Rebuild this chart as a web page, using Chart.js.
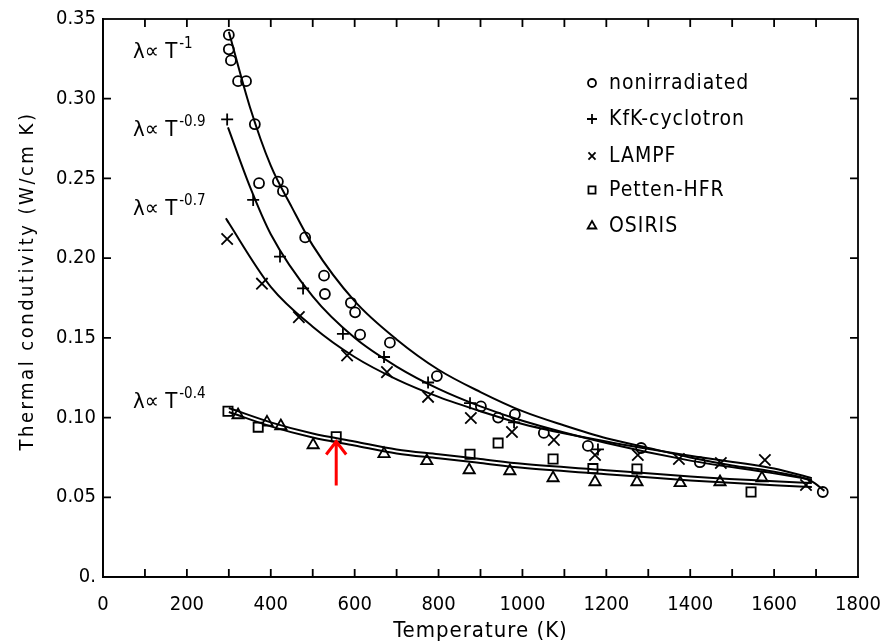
<!DOCTYPE html>
<html lang="en">
<head>
    <meta charset="UTF-8">
    <title>Thermal conductivity</title>
    <script src="https://cdn.jsdelivr.net/npm/chart.js"></script>
    <style>
        body { margin: 0; background: #fff; }
        #wrap { width: 883px; height: 642px; position: relative; }
    </style>
</head>
<body>
    <div id="wrap"><canvas id="condChart"></canvas></div>

    <script>
        // measured points (T in K, lambda in W/cm K)
        let nonirrT = [300, 300, 305, 322, 341, 362, 372, 417, 429, 482, 527, 529, 591, 601, 613, 684, 796, 901, 942, 982, 1051, 1156, 1283, 1423, 1716];
        let nonirrL = [0.340, 0.331, 0.324, 0.311, 0.311, 0.284, 0.247, 0.248, 0.242, 0.213, 0.189, 0.1775, 0.172, 0.166, 0.152, 0.147, 0.126, 0.107, 0.100, 0.102, 0.0904, 0.0822, 0.0809, 0.072, 0.0533];

        let kfkT = [296, 358, 422, 477, 572, 670, 775, 875, 980, 1180];
        let kfkL = [0.287, 0.2365, 0.201, 0.181, 0.1525, 0.138, 0.122, 0.109, 0.097, 0.080];

        let lampfT = [296, 379, 467, 582, 677, 775, 877, 975, 1075, 1173, 1275, 1373, 1473, 1578, 1676];
        let lampfL = [0.212, 0.184, 0.163, 0.139, 0.1285, 0.113, 0.0997, 0.091, 0.086, 0.0765, 0.0765, 0.074, 0.0715, 0.0734, 0.0577];

        let pettenT = [298, 370, 556, 875, 942, 1073, 1168, 1273, 1545];
        let pettenL = [0.104, 0.094, 0.088, 0.077, 0.084, 0.074, 0.068, 0.0678, 0.0533];

        let osirisT = [322, 391, 424, 501, 670, 772, 873, 970, 1073, 1173, 1273, 1376, 1471, 1571];
        let osirisL = [0.1016, 0.097, 0.0947, 0.0828, 0.0772, 0.0728, 0.0671, 0.0665, 0.0621, 0.0596, 0.0596, 0.059, 0.0596, 0.062];

        // fitted curves
        let fit1T = [300, 350, 400, 450, 500, 600, 700, 800, 900, 1000, 1100, 1200, 1300, 1400, 1500, 1600, 1690, 1720];
        let fit1L = [0.342, 0.295, 0.258, 0.232, 0.208, 0.173, 0.149, 0.130, 0.116, 0.104, 0.095, 0.087, 0.081, 0.075, 0.070, 0.066, 0.060, 0.054];

        let fit09T = [298, 350, 400, 500, 600, 700, 800, 900, 1000, 1200, 1400, 1600, 1690];
        let fit09L = [0.282, 0.245, 0.215, 0.176, 0.150, 0.132, 0.118, 0.107, 0.098, 0.084, 0.073, 0.065, 0.061];

        let fit07T = [293, 300, 400, 500, 600, 700, 800, 900, 1000, 1200, 1400, 1600, 1690];
        let fit07L = [0.225, 0.222, 0.182, 0.157, 0.138, 0.124, 0.113, 0.104, 0.096, 0.085, 0.076, 0.068, 0.062];

        let fit04T = [300, 400, 500, 600, 700, 800, 900, 1000, 1200, 1400, 1600, 1690];
        let fit04aL = [0.106, 0.097, 0.090, 0.085, 0.080, 0.077, 0.074, 0.071, 0.067, 0.063, 0.060, 0.059];
        let fit04bL = [0.1035, 0.0945, 0.0875, 0.0825, 0.0775, 0.0745, 0.0715, 0.0685, 0.0645, 0.0605, 0.0575, 0.0565];

        let xTicks = [0, 200, 400, 600, 800, 1000, 1200, 1400, 1600, 1800];
        let yTicks = [0, 0.05, 0.10, 0.15, 0.20, 0.25, 0.30, 0.35];
        let xMinor = [100, 200, 300, 400, 500, 600, 700, 800, 900, 1000, 1100, 1200, 1300, 1400, 1500, 1600, 1700];

        let legendNames = ['nonirradiated', 'KfK-cyclotron', 'LAMPF', 'Petten-HFR', 'OSIRIS'];
        let exponents = ['-1', '-0.9', '-0.7', '-0.4'];
        let exponentAt = [0.3256, 0.2767, 0.2271, 0.106];

        const FONT = "'DejaVu Sans Condensed', 'Liberation Sans Narrow', Roboto, sans-serif";

        function pts(xs, ys) {
            return xs.map((x, i) => ({ x: x, y: ys[i] }));
        }

        function markers(label, xs, ys, style, r) {
            return {
                label: label,
                data: pts(xs, ys),
                showLine: false,
                pointStyle: style,
                pointRadius: r,
                pointBackgroundColor: '#fff',
                pointBorderColor: '#000',
                pointBorderWidth: 1.8
            };
        }

        function curve(xs, ys) {
            return {
                label: '',
                data: pts(xs, ys),
                showLine: true,
                borderColor: '#000',
                borderWidth: 2,
                pointRadius: 0,
                cubicInterpolationMode: 'monotone',
                fill: false
            };
        }

        const frame = {
            id: 'frame',
            afterDraw(chart) {
                const c = chart.ctx;
                const a = chart.chartArea;
                const xs = chart.scales.x, ys = chart.scales.y;
                c.save();
                c.strokeStyle = '#000';
                c.lineWidth = 1.8;
                c.strokeRect(a.left, a.top, a.right - a.left, a.bottom - a.top);
                c.beginPath();
                xMinor.forEach(v => {
                    const px = xs.getPixelForValue(v);
                    c.moveTo(px, a.bottom); c.lineTo(px, a.bottom - 8);
                    c.moveTo(px, a.top); c.lineTo(px, a.top + 8);
                });
                yTicks.slice(1, -1).forEach(v => {
                    const py = ys.getPixelForValue(v);
                    c.moveTo(a.left, py); c.lineTo(a.left + 8, py);
                    c.moveTo(a.right, py); c.lineTo(a.right - 8, py);
                });
                c.stroke();

                c.fillStyle = '#000';

                // axis titles
                c.letterSpacing = '1px';
                c.font = '22px ' + FONT;
                c.textAlign = 'center';
                c.textBaseline = 'alphabetic';
                c.fillText('Temperature (K)', (a.left + a.right) / 2, 637);
                c.save();
                c.translate(33, 281);
                c.rotate(-Math.PI / 2);
                c.letterSpacing = '2.5px';
                c.font = '20px ' + FONT;
                c.fillText('Thermal condutivity (W/cm K)', 0, 0);
                c.restore();
                c.letterSpacing = '0px';

                // power law labels
                c.textAlign = 'left';
                exponents.forEach((e, i) => {
                    const y = ys.getPixelForValue(exponentAt[i]);
                    c.font = '22px ' + FONT;
                    c.fillText('\u03bb\u221d T', 133, y);
                    const w = c.measureText('\u03bb\u221d T').width;
                    c.font = '15px ' + FONT;
                    c.fillText(e, 133 + w + 2, y - 10);
                });

                // legend
                const lx = 592, ly = [83, 119, 156, 190, 226];
                const styles = ['circle', 'cross', 'crossRot', 'rect', 'triangle'];
                const radii = [4, 5, 5, 5, 5];
                legendNames.forEach((n, i) => {
                    c.lineWidth = 1.8;
                    c.strokeStyle = '#000';
                    c.fillStyle = '#fff';
                    Chart.helpers.drawPoint(c, { pointStyle: styles[i], radius: radii[i], borderWidth: 1.8 }, lx, ly[i]);
                    c.fillStyle = '#000';
                    c.letterSpacing = '1px';
                    c.font = '21px ' + FONT;
                    c.textBaseline = 'middle';
                    c.fillText(n, lx + 17, ly[i] + 1);
                });
                c.letterSpacing = '0px';

                // red arrow
                const ax = xs.getPixelForValue(556);
                const ay = ys.getPixelForValue(0.085);
                c.strokeStyle = '#f00';
                c.lineWidth = 3;
                c.beginPath();
                c.moveTo(ax, ay + 44); c.lineTo(ax, ay);
                c.moveTo(ax - 10, ay + 13); c.lineTo(ax, ay); c.lineTo(ax + 10, ay + 13);
                c.stroke();
                c.restore();
            }
        };

        const ctx = document.getElementById('condChart').getContext('2d');
        const condChart = new Chart(ctx, {
            type: 'scatter',
            data: {
                datasets: [
                    curve(fit1T, fit1L),
                    curve(fit09T, fit09L),
                    curve(fit07T, fit07L),
                    curve(fit04T, fit04aL),
                    curve(fit04T, fit04bL),
                    markers(legendNames[0], nonirrT, nonirrL, 'circle', 5),
                    markers(legendNames[1], kfkT, kfkL, 'cross', 6),
                    markers(legendNames[2], lampfT, lampfL, 'crossRot', 8),
                    markers(legendNames[3], pettenT, pettenL, 'rect', 6.5),
                    markers(legendNames[4], osirisT, osirisL, 'triangle', 6.5)
                ]
            },
            options: {
                responsive: true,
                maintainAspectRatio: false,
                animation: false,
                layout: { padding: { top: 19, right: 25, left: 0, bottom: 0 } },
                plugins: {
                    legend: { display: false },
                    tooltip: { enabled: false }
                },
                scales: {
                    x: {
                        type: 'linear',
                        min: 0,
                        max: 1800,
                        afterBuildTicks: s => { s.ticks = xTicks.map(v => ({ value: v })); },
                        afterFit: s => { s.height = 65; s.paddingLeft = 0; s.paddingRight = 0; },
                        grid: { display: false, drawTicks: false, tickLength: 0 },
                        border: { color: '#000', width: 1.8 },
                        ticks: {
                            color: '#000',
                            padding: 16,
                            font: { family: FONT, size: 20 },
                            maxRotation: 0,
                            callback: v => String(v)
                        }
                    },
                    y: {
                        type: 'linear',
                        min: 0,
                        max: 0.35,
                        afterBuildTicks: s => { s.ticks = yTicks.map(v => ({ value: v })); },
                        afterFit: s => { s.width = 103; s.paddingTop = 0; s.paddingBottom = 0; },
                        grid: { display: false, drawTicks: false, tickLength: 0 },
                        border: { color: '#000', width: 1.8 },
                        ticks: {
                            color: '#000',
                            padding: 7,
                            font: { family: FONT, size: 20 },
                            callback: v => v === 0 ? '0.' : v.toFixed(2)
                        }
                    }
                }
            },
            plugins: [frame]
        });
    </script>
</body>
</html>
